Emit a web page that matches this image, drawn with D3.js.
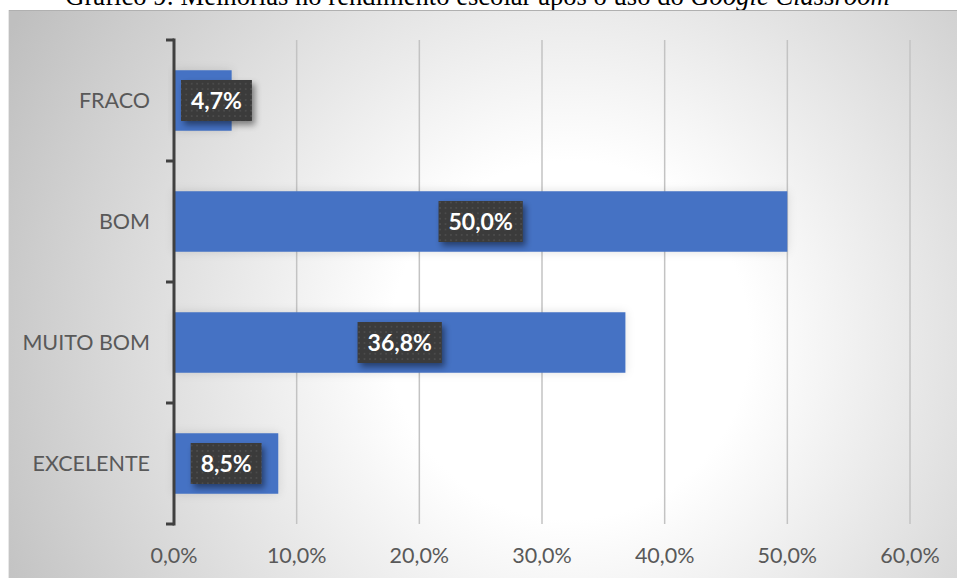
<!DOCTYPE html>
<html>
<head>
<meta charset="utf-8">
<script src="https://cdn.jsdelivr.net/npm/d3@7"></script>
<style>
  html, body { margin: 0; padding: 0; background: #ffffff; }
  svg { display: block; }
</style>
</head>
<body>
<svg id="chart" width="957" height="578"></svg>
<script>
// Avaliação do rendimento escolar (percentagem de respostas)
const categories = ["FRACO", "BOM", "MUITO BOM", "EXCELENTE"];
const values = [4.7, 50.0, 36.8, 8.5];
const xTicks = [0, 10, 20, 30, 40, 50, 60];
const titleMain = "Gráfico 9: Melhorias no rendimento escolar após o uso do ";
const titleItalic = "Google Classroom";

const W = 957, H = 578;
const svg = d3.select("#chart");
const defs = svg.append("defs");

const fmt = v => v.toFixed(1).replace(".", ",") + "%";

// Radial background of the chart frame
const bg = defs.append("radialGradient")
  .attr("id", "bgGrad")
  .attr("gradientUnits", "userSpaceOnUse")
  .attr("cx", 570).attr("cy", 340).attr("r", 640);
bg.append("stop").attr("offset", 0).attr("stop-color", "#ffffff");
bg.append("stop").attr("offset", 0.28).attr("stop-color", "#ffffff");
bg.append("stop").attr("offset", 1).attr("stop-color", "#bfbfbf");

// Soft halo around the bars
const halo = defs.append("filter").attr("id", "halo")
  .attr("x", "-10%").attr("y", "-40%").attr("width", "120%").attr("height", "180%");
halo.append("feDropShadow").attr("dx", 0).attr("dy", 0)
  .attr("stdDeviation", 5).attr("flood-color", "#000").attr("flood-opacity", 0.12);

// Shadow under the value boxes
const boxShadow = defs.append("filter").attr("id", "boxShadow")
  .attr("x", "-30%").attr("y", "-30%").attr("width", "170%").attr("height", "170%");
boxShadow.append("feDropShadow").attr("dx", 3).attr("dy", 4)
  .attr("stdDeviation", 3).attr("flood-color", "#000").attr("flood-opacity", 0.45);

// Dotted fill for the value boxes
const dots = defs.append("pattern").attr("id", "dots")
  .attr("patternUnits", "userSpaceOnUse")
  .attr("width", 5.4).attr("height", 5.4);
dots.append("rect").attr("width", 5.4).attr("height", 5.4).attr("fill", "#3a3a3a");
dots.append("rect").attr("x", 2).attr("y", 2).attr("width", 1.4).attr("height", 1.4).attr("fill", "#575757");

// Title (partly above the frame)
const title = svg.append("text")
  .attr("x", W / 2 - 1).attr("y", 5)
  .attr("text-anchor", "middle")
  .attr("font-family", "'Liberation Serif', 'Times New Roman', serif")
  .attr("font-size", 24)
  .attr("fill", "#000");
title.append("tspan").text(titleMain);
title.append("tspan").attr("font-style", "italic").text(titleItalic);
const tw = title.node().getComputedTextLength();
title.attr("font-size", 24 * 825 / tw);

// Chart frame
svg.append("rect")
  .attr("x", 8).attr("y", 10).attr("width", W - 8).attr("height", H - 10)
  .attr("fill", "url(#bgGrad)");
svg.append("line")
  .attr("x1", 8).attr("x2", W).attr("y1", 10.5).attr("y2", 10.5)
  .attr("stroke", "#b0b0b0").attr("stroke-width", 1);
svg.append("line")
  .attr("x1", 8.5).attr("x2", 8.5).attr("y1", 10).attr("y2", H)
  .attr("stroke", "#e8e8e8").attr("stroke-width", 1);

// Scales
const x = d3.scaleLinear().domain([0, 60]).range([174, 910]);
const y = d3.scaleBand().domain(categories).range([40, 524]).paddingInner(0.5).paddingOuter(0.25);
const yBounds = d3.scaleBand().domain(categories).range([40, 524]);

// Vertical gridlines
svg.append("g")
  .selectAll("line")
  .data(xTicks.filter(t => t > 0))
  .join("line")
  .attr("x1", d => x(d)).attr("x2", d => x(d))
  .attr("y1", 40).attr("y2", 524)
  .attr("stroke", "#c3c3c3").attr("stroke-width", 1.5);

// Bars
svg.append("g")
  .selectAll("rect")
  .data(categories)
  .join("rect")
  .attr("x", x(0))
  .attr("y", d => y(d))
  .attr("width", (d, i) => x(values[i]) - x(0))
  .attr("height", y.bandwidth())
  .attr("fill", "#4472c4")
  .attr("filter", "url(#halo)");

// Category axis
const yAxis = svg.append("g");
yAxis.append("line")
  .attr("x1", x(0)).attr("x2", x(0)).attr("y1", 38.5).attr("y2", 525.5)
  .attr("stroke", "#404040").attr("stroke-width", 3);
const bounds = categories.map(c => yBounds(c)).concat([yBounds.range()[1]]);
yAxis.selectAll("line.tick")
  .data(bounds)
  .join("line")
  .attr("class", "tick")
  .attr("x1", x(0) - 8).attr("x2", x(0))
  .attr("y1", d => d).attr("y2", d => d)
  .attr("stroke", "#404040").attr("stroke-width", 3);
yAxis.selectAll("text")
  .data(categories)
  .join("text")
  .attr("x", 150)
  .attr("y", d => y(d) + y.bandwidth() / 2 + 7.5)
  .attr("text-anchor", "end")
  .attr("font-family", "Lato, 'Open Sans', sans-serif")
  .attr("font-size", 21.5)
  .attr("fill", "#595959")
  .text(d => d);

// Value axis labels
svg.append("g")
  .selectAll("text")
  .data(xTicks)
  .join("text")
  .attr("x", d => x(d))
  .attr("y", 563)
  .attr("text-anchor", "middle")
  .attr("font-family", "Lato, 'Open Sans', sans-serif")
  .attr("font-size", 21.5)
  .attr("fill", "#595959")
  .text(d => fmt(d));

// Value boxes
const lbl = svg.append("g")
  .selectAll("g")
  .data(categories)
  .join("g");
lbl.each(function (d, i) {
  const g = d3.select(this);
  const t = g.append("text")
    .attr("text-anchor", "middle")
    .attr("font-family", "Lato, 'Open Sans', sans-serif")
    .attr("font-weight", "bold")
    .attr("font-size", 23)
    .attr("fill", "#ffffff")
    .text(fmt(values[i]));
  const w = t.node().getComputedTextLength() + 20;
  const h = 41;
  const cx = Math.max((x(0) + x(values[i])) / 2, x(0) + 7 + w / 2);
  const cy = y(d) + y.bandwidth() / 2;
  g.insert("rect", "text")
    .attr("x", cx - w / 2).attr("y", cy - h / 2)
    .attr("width", w).attr("height", h)
    .attr("fill", "url(#dots)")
    .attr("filter", "url(#boxShadow)");
  t.attr("x", cx).attr("y", cy + 8.5);
});
</script>
</body>
</html>
